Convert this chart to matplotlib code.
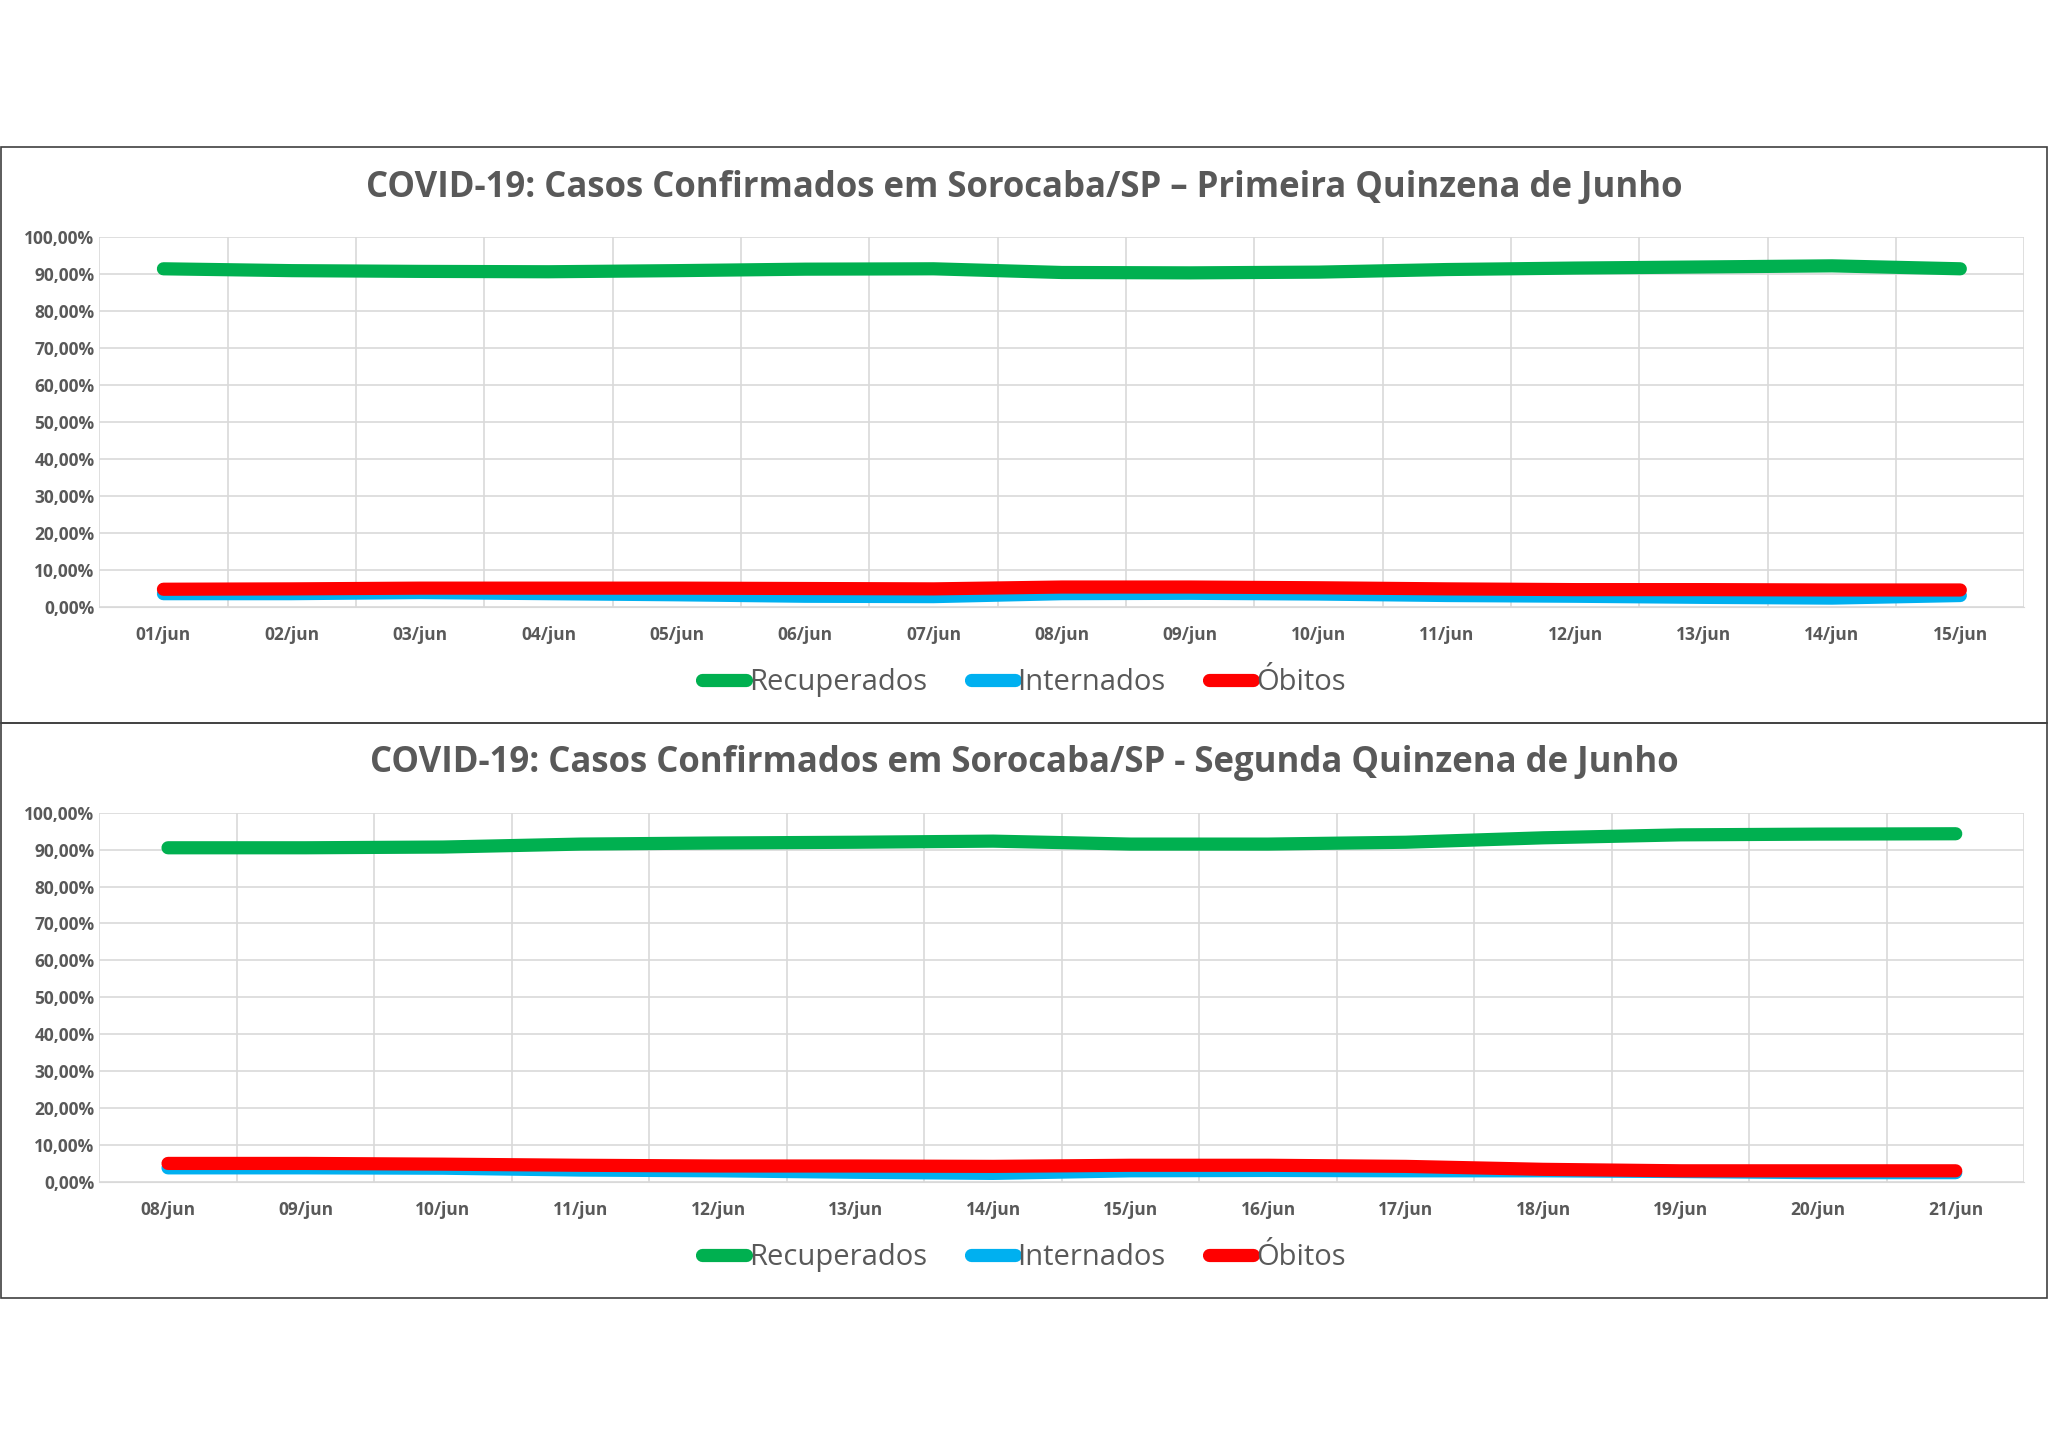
import matplotlib
matplotlib.use("Agg")
import matplotlib.pyplot as plt
from matplotlib.ticker import FuncFormatter, FixedLocator
from matplotlib.patches import Rectangle
from matplotlib.lines import Line2D
import numpy as np

plt.rcParams['font.family'] = ['Open Sans', 'DejaVu Sans']

dias1 = ["01/jun","02/jun","03/jun","04/jun","05/jun","06/jun","07/jun","08/jun",
         "09/jun","10/jun","11/jun","12/jun","13/jun","14/jun","15/jun"]
recup1 = [91.5,91.0,90.8,90.7,91.0,91.4,91.5,90.5,90.4,90.6,91.3,91.7,92.0,92.3,91.5]
intern1 = [3.5,3.5,3.8,3.5,3.2,2.8,2.7,3.5,3.6,3.4,3.0,2.8,2.5,2.3,3.0]
obitos1 = [4.7,4.8,5.0,5.0,5.0,4.9,4.8,5.3,5.3,5.1,4.8,4.6,4.6,4.5,4.5]

dias2 = ["08/jun","09/jun","10/jun","11/jun","12/jun","13/jun","14/jun",
         "15/jun","16/jun","17/jun","18/jun","19/jun","20/jun","21/jun"]
recup2 = [90.5,90.5,90.7,91.5,91.8,92.0,92.3,91.5,91.5,92.0,93.2,94.0,94.2,94.3]
intern2 = [3.8,3.8,3.7,3.2,3.0,2.6,2.3,3.0,3.1,3.0,3.0,2.8,2.5,2.5]
obitos2 = [5.0,5.0,4.8,4.5,4.3,4.3,4.2,4.5,4.5,4.2,3.4,3.0,3.0,3.0]

titulo1 = "COVID-19: Casos Confirmados em Sorocaba/SP – Primeira Quinzena de Junho"
titulo2 = "COVID-19: Casos Confirmados em Sorocaba/SP - Segunda Quinzena de Junho"

VERDE, AZUL, VERM = "#00B050", "#00B0F0", "#FF0000"
CINZA = "#595959"

fig = plt.figure(figsize=(20.48, 14.48), dpi=100)

# panel borders
for y0, h in [(1-554/1110, 441/1110), (1-995/1110, 441/1110)]:
    fig.patches.append(Rectangle((0.0005, y0), 0.999, h, transform=fig.transFigure,
                                 fill=False, edgecolor="#404040", lw=1.2))

def painel(rect, dias, rec, inte, obi, titulo, ty, ly):
    ax = fig.add_axes(rect)
    x = np.arange(len(dias))
    lw = 9.5
    ax.plot(x, rec, color=VERDE, lw=lw, solid_capstyle='round', solid_joinstyle='round')
    ax.plot(x, inte, color=AZUL, lw=lw, solid_capstyle='round', solid_joinstyle='round')
    ax.plot(x, obi, color=VERM, lw=lw, solid_capstyle='round', solid_joinstyle='round')
    ax.set_xlim(-0.5, len(dias) - 0.5)
    ax.set_ylim(0, 100)
    ax.set_yticks(np.arange(0, 101, 10))
    ax.yaxis.set_major_formatter(FuncFormatter(lambda v, p: f"{v:.2f}".replace(".", ",") + "%"))
    ax.set_xticks(x)
    ax.set_xticklabels(dias)
    ax.xaxis.set_minor_locator(FixedLocator(np.arange(-0.5, len(dias), 1.0)))
    ax.grid(axis='y', which='major', color="#D9D9D9", lw=1.2)
    ax.grid(axis='x', which='minor', color="#D9D9D9", lw=1.2)
    ax.set_axisbelow(True)
    for s in ['top', 'right', 'left']:
        ax.spines[s].set_visible(False)
    ax.spines['bottom'].set_color("#D9D9D9")
    ax.tick_params(axis='both', which='both', length=0, labelsize=12.5, labelcolor=CINZA)
    ax.tick_params(axis='x', which='major', pad=14)
    for t in ax.get_xticklabels() + ax.get_yticklabels():
        t.set_fontweight('bold')
    fig.text(0.5, ty, titulo, ha='center', va='center', fontsize=25,
             fontweight='bold', color=CINZA)
    handles = [Line2D([], [], color=c, lw=lw, solid_capstyle='round') for c in (VERDE, AZUL, VERM)]
    fig.legend(handles, ["Recuperados", "Internados", "Óbitos"], loc='center',
               bbox_to_anchor=(0.5, ly), ncol=3, frameon=False, fontsize=21,
               labelcolor=CINZA, handlelength=1.5, handletextpad=0.1, columnspacing=1.5)
    return ax

painel([76/1568, 1-465/1110, 1474/1568, 283/1110], dias1, recup1, intern1, obitos1,
       titulo1, 1-144/1110, 1-523/1110)
painel([76/1568, 1-906/1110, 1474/1568, 283/1110], dias2, recup2, intern2, obitos2,
       titulo2, 1-585/1110, 1-964/1110)

fig.savefig("out.png", dpi=100, facecolor="white")
